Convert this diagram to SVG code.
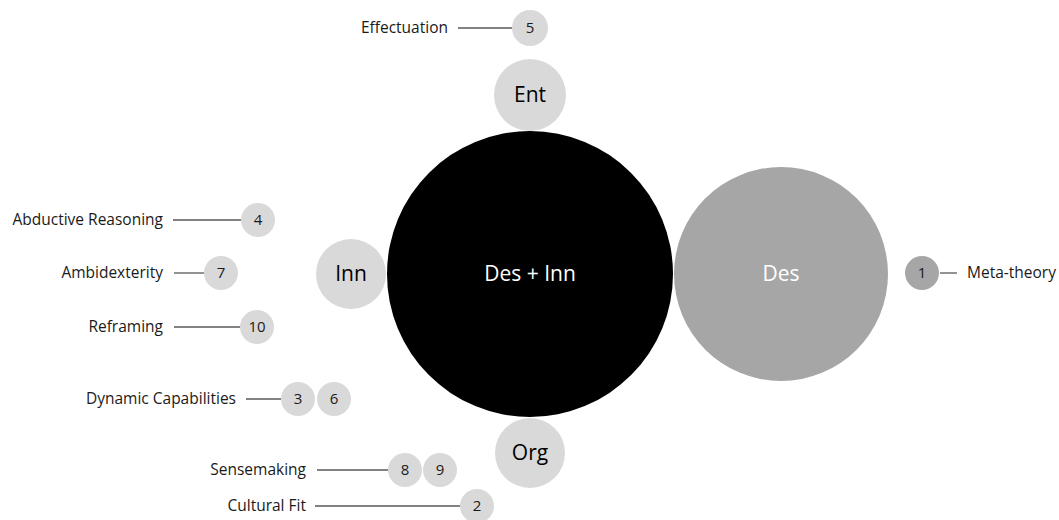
<svg xmlns="http://www.w3.org/2000/svg" width="1059" height="520" viewBox="0 0 1059 520">
<style>
.lbl{font-family:"Open Sans","Liberation Sans",sans-serif;font-size:15.5px;fill:#1a1a1a}
.num{font-family:"Open Sans","Liberation Sans",sans-serif;font-size:15px;fill:#1a1a1a;text-anchor:middle}
.big{font-family:"Open Sans","Liberation Sans",sans-serif;font-size:21px;text-anchor:middle}
.lt{fill:#d9d9d9}
.dk{fill:#a6a6a6}
.ln{stroke:#595959;stroke-width:1.3;fill:none}
</style>
<rect width="1059" height="520" fill="#ffffff"/>
<g id="connectors">
<line class="ln" x1="458" y1="28" x2="512" y2="28"/>
<line class="ln" x1="173" y1="220" x2="241" y2="220"/>
<line class="ln" x1="174" y1="273" x2="204" y2="273"/>
<line class="ln" x1="174" y1="327" x2="240" y2="327"/>
<line class="ln" x1="246" y1="399" x2="281" y2="399"/>
<line class="ln" x1="317" y1="470" x2="388" y2="470"/>
<line class="ln" x1="315" y1="506" x2="460" y2="506"/>
<line class="ln" x1="940" y1="273" x2="957" y2="273"/>
</g>
<g id="desinn"><circle cx="530" cy="274" r="143" fill="#000"/><text class="big" x="530" y="281" fill="#fff">Des + Inn</text></g>
<g id="des"><circle class="dk" cx="781" cy="274" r="107"/><text class="big" x="781" y="281" fill="#fff">Des</text></g>
<g id="ent"><circle class="lt" cx="530" cy="95" r="36"/><text class="big" x="530" y="102" fill="#000">Ent</text></g>
<g id="inn"><circle class="lt" cx="351" cy="274" r="35"/><text class="big" x="351" y="281" fill="#000">Inn</text></g>
<g id="org"><circle class="lt" cx="530" cy="453" r="35"/><text class="big" x="530" y="460" fill="#000">Org</text></g>
<g id="n5"><circle class="lt" cx="530" cy="28" r="18"/><text class="num" x="530" y="33">5</text><text class="lbl" x="448" y="33" text-anchor="end">Effectuation</text></g>
<g id="n4"><circle class="lt" cx="258" cy="220" r="17"/><text class="num" x="258" y="225">4</text><text class="lbl" x="163" y="225" text-anchor="end">Abductive Reasoning</text></g>
<g id="n7"><circle class="lt" cx="221" cy="273" r="17"/><text class="num" x="221" y="278">7</text><text class="lbl" x="163" y="278" text-anchor="end">Ambidexterity</text></g>
<g id="n10"><circle class="lt" cx="257" cy="327" r="17"/><text class="num" x="257" y="332">10</text><text class="lbl" x="163" y="332" text-anchor="end">Reframing</text></g>
<g id="n3"><circle class="lt" cx="298" cy="399" r="17"/><text class="num" x="298" y="404">3</text><text class="lbl" x="236" y="404" text-anchor="end">Dynamic Capabilities</text></g>
<g id="n6"><circle class="lt" cx="334" cy="399" r="17"/><text class="num" x="334" y="404">6</text></g>
<g id="n8"><circle class="lt" cx="405" cy="470" r="17"/><text class="num" x="405" y="475">8</text><text class="lbl" x="306" y="475" text-anchor="end">Sensemaking</text></g>
<g id="n9"><circle class="lt" cx="440" cy="470" r="17"/><text class="num" x="440" y="475">9</text></g>
<g id="n2"><circle class="lt" cx="477" cy="506" r="17"/><text class="num" x="477" y="511">2</text><text class="lbl" x="306" y="511" text-anchor="end">Cultural Fit</text></g>
<g id="n1"><circle class="dk" cx="922" cy="273" r="17"/><text class="num" x="922" y="278">1</text><text class="lbl" x="967" y="278">Meta-theory</text></g>
</svg>
